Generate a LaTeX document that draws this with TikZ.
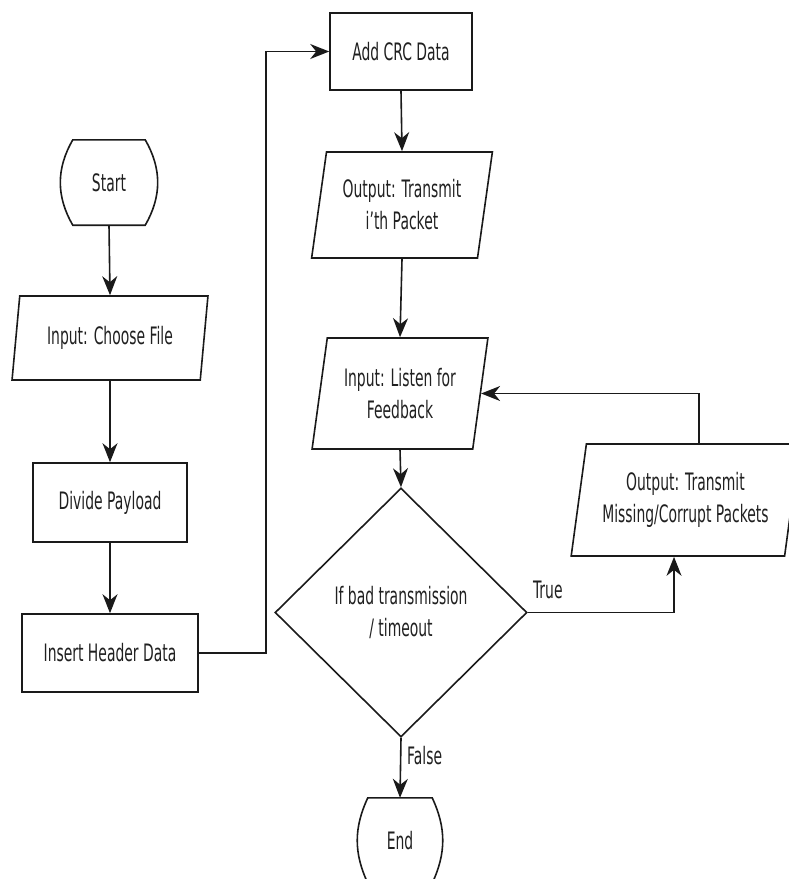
\documentclass[tikz,border=0pt]{standalone}
\usepackage{fontspec}
\setmainfont{DejaVu Sans}[FakeStretch=0.58]
\usetikzlibrary{shapes.geometric,arrows.meta}
\definecolor{lnc}{HTML}{1A1A1A}
\definecolor{txc}{HTML}{202020}
\begin{document}
\begin{tikzpicture}[x=1pt,y=-1pt,
  every node/.style={font=\fontsize{24}{32}\selectfont, text=txc, inner sep=0pt, align=center},
  box/.style={rectangle, draw=lnc, line width=1.6pt},
  io/.style={trapezium, trapezium left angle=77, trapezium right angle=103, trapezium stretches=true, draw=lnc, line width=1.6pt},
  term/.style={rectangle, draw=none},
  termline/.style={draw=lnc, line width=1.6pt},
  dec/.style={diamond, draw=lnc, line width=1.6pt},
  arr/.style={-{Stealth[length=19pt,width=15pt,inset=6pt]}, line width=1.6pt, draw=lnc},
  lbl/.style={draw=none}
]
\useasboundingbox (0,0) rectangle (789,879);
\clip (0,0) rectangle (789,879);

\node[term, minimum width=72pt, minimum height=85pt] (start) at (109,182.5) {Start};
\node[io, minimum width=196pt, minimum height=84pt] (choose) at (110,338) {Input: Choose File};
\node[box, minimum width=154pt, minimum height=79pt] (divide) at (110,502.5) {Divide Payload};
\node[box, minimum width=176pt, minimum height=78pt] (insert) at (110,653) {Insert Header Data};
\node[box, minimum width=142pt, minimum height=77pt] (crc) at (401,51.5) {Add CRC Data};
\node[io, minimum width=181pt, minimum height=106pt] (tx) at (402,205) {Output: Transmit\\i'th Packet};
\node[io, minimum width=176pt, minimum height=111pt] (listen) at (400,393.5) {Input: Listen for\\Feedback};
\node[dec, minimum width=252pt, minimum height=249pt] (dec) at (401,612.5) {If bad transmission\\/ timeout};
\node[io, minimum width=229pt, minimum height=112pt] (miss) at (685.5,500) {Output: Transmit\\Missing/Corrupt Packets};
\node[term, minimum width=64pt, minimum height=85pt] (end) at (400,840.5) {End};

\draw[termline] (start.north west) -- (start.north east) to[bend left=30] (start.south east)
  -- (start.south west) to[bend left=30] (start.north west) -- cycle;
\draw[termline] (end.north west) -- (end.north east) to[bend left=25] (end.south east)
  -- (end.south west) to[bend left=25] (end.north west) -- cycle;

\coordinate (jx) at (266,0);

\draw[arr] (start.south) -- (choose.north);
\draw[arr] (choose.south) -- (divide.north);
\draw[arr] (divide.south) -- (insert.north);
\draw[arr] (insert.east) -- (insert.east -| jx) -- (jx |- crc.west) -- (crc.west);
\draw[arr] (crc.south) -- (tx.north);
\draw[arr] (tx.south) -- (listen.north);
\draw[arr] (listen.south) -- (dec.north);
\draw[arr] (dec.east) -| ([xshift=-11.5pt]miss.south);
\draw[arr] ([xshift=13.5pt]miss.north) |- (listen.east);
\draw[arr] (dec.south) -- (end.north);

\node[lbl, anchor=base west] (truelbl) at ([xshift=5pt,yshift=14pt]dec.east) {True};
\node[lbl, anchor=base west] (falselbl) at ([xshift=6pt,yshift=-27pt]dec.south) {False};
\end{tikzpicture}
\end{document}
